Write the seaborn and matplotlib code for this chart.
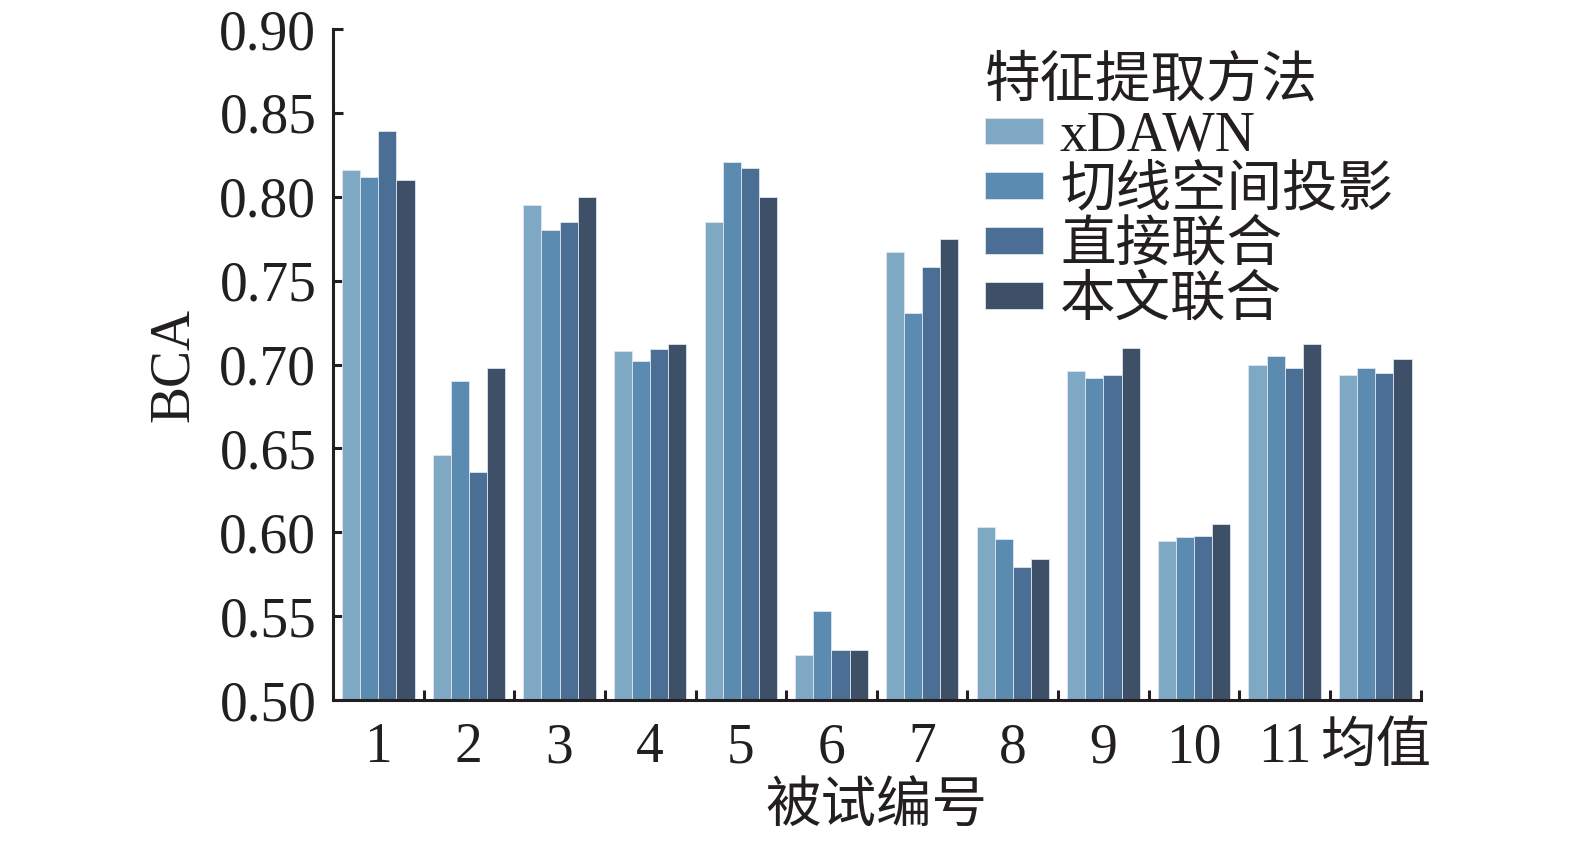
"""
Grouped bar chart of BCA per subject for four feature extraction methods.
"""

import matplotlib
matplotlib.use("Agg")
import matplotlib.pyplot as plt
import numpy as np
import pandas as pd
import seaborn as sns

# ---- data ----
subjects = ["1", "2", "3", "4", "5", "6", "7", "8", "9", "10", "11", "均值"]
methods = ["xDAWN", "切线空间投影", "直接联合", "本文联合"]

bca_xdawn = [0.816, 0.646, 0.795, 0.708, 0.785, 0.527, 0.767, 0.603, 0.696, 0.595, 0.700, 0.694]
bca_tangent = [0.812, 0.690, 0.780, 0.702, 0.821, 0.553, 0.731, 0.596, 0.692, 0.597, 0.705, 0.698]
bca_direct = [0.839, 0.636, 0.785, 0.709, 0.817, 0.530, 0.758, 0.579, 0.694, 0.598, 0.698, 0.695]
bca_ours = [0.810, 0.698, 0.800, 0.712, 0.800, 0.530, 0.775, 0.584, 0.710, 0.605, 0.712, 0.703]

yticks = [0.50, 0.55, 0.60, 0.65, 0.70, 0.75, 0.80, 0.85, 0.90]
colors = ["#7FA8C4", "#5C8BB2", "#4A6E94", "#3E5068"]
INK = "#231f20"

sns.set_style("ticks")
plt.rcParams["font.family"] = ["Liberation Serif", "Noto Sans CJK SC"]
plt.rcParams["text.color"] = INK
plt.rcParams["axes.labelcolor"] = INK
plt.rcParams["xtick.labelcolor"] = INK
plt.rcParams["ytick.labelcolor"] = INK

FS = 40

df = pd.DataFrame({
    "subject": subjects * 4,
    "BCA": bca_xdawn + bca_tangent + bca_direct + bca_ours,
    "method": [m for m in methods for _ in subjects],
})

fig = plt.figure(figsize=(15.75, 8.44), dpi=100)
ax = fig.add_axes([0.2114, 0.1706, 0.6906, 0.795])

sns.barplot(
    data=df, x="subject", y="BCA", hue="method", hue_order=methods,
    palette=colors, width=0.8, saturation=1, gap=0,
    edgecolor="#dde6ee", linewidth=0.6, ax=ax,
)

ax.set_ylim(0.50, 0.90)
ax.set_xlim(-0.5, len(subjects) - 0.5)
ax.set_yticks(yticks)
ax.set_yticklabels([f"{t:.2f}" for t in yticks], fontsize=FS)
ax.set_xticks(range(len(subjects)))
ax.set_xticklabels(subjects, fontsize=FS)
ax.set_xticks(np.arange(len(subjects)) + 0.5, minor=True)

ax.tick_params(axis="x", which="major", length=0, pad=16)
ax.tick_params(axis="x", which="minor", direction="in", length=7, width=2.2, color=INK)
ax.tick_params(axis="y", direction="in", length=7, width=2.2, color=INK, pad=12)

for side in ["top", "right"]:
    ax.spines[side].set_visible(False)
for side in ["left", "bottom"]:
    ax.spines[side].set_linewidth(2.2)
    ax.spines[side].set_color(INK)

ax.set_xlabel("被试编号", fontsize=FS, labelpad=6)
ax.set_ylabel("BCA", fontsize=FS, labelpad=14)

leg = ax.legend(
    title="特征提取方法", fontsize=FS, title_fontsize=FS, frameon=False,
    loc="upper left", bbox_to_anchor=(985 / 1575, 1 - 56 / 844),
    bbox_transform=fig.transFigure, handlelength=1.05, handleheight=0.36,
    handletextpad=0.3, labelspacing=0.05, borderpad=0, borderaxespad=0,
    alignment="left",
)

fig.savefig("out.png", dpi=100)
plt.close(fig)
